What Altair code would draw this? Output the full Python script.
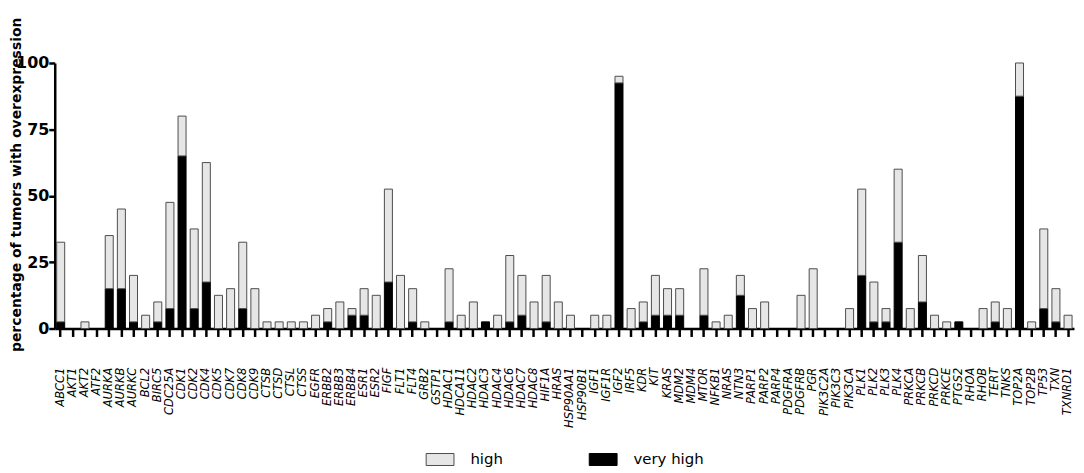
import altair as alt
import pandas as pd

genes = ["ABCC1","AKT1","AKT2","ATF2","AURKA","AURKB","AURKC","BCL2","BIRC5","CDC25A",
         "CDK1","CDK2","CDK4","CDK5","CDK7","CDK8","CDK9","CTSB","CTSD","CTSL",
         "CTSS","EGFR","ERBB2","ERBB3","ERBB4","ESR1","ESR2","FIGF","FLT1","FLT4",
         "GRB2","GSTP1","HDAC1","HDCA11","HDAC2","HDAC3","HDAC4","HDAC6","HDAC7","HDAC8",
         "HIF1A","HRAS","HSP90AA1","HSP90B1","IGF1","IGF1R","IGF2","IRF5","KDR","KIT",
         "KRAS","MDM2","MDM4","MTOR","NFKB1","NRAS","NTN3","PARP1","PARP2","PARP4",
         "PDGFRA","PDGFRB","PGR","PIK3C2A","PIK3C3","PIK3CA","PLK1","PLK2","PLK3","PLK4",
         "PRKCA","PRKCB","PRKCD","PRKCE","PTGS2","RHOA","RHOB","TERT","TNKS","TOP2A",
         "TOP2B","TP53","TXN","TXNRD1"]

# total percentage of tumours with overexpression (high + very high)
total = [32.5,0,2.5,0,35,45,20,5,10,47.5,
         80,37.5,62.5,12.5,15,32.5,15,2.5,2.5,2.5,
         2.5,5,7.5,10,7.5,15,12.5,52.5,20,15,
         2.5,0,22.5,5,10,2.5,5,27.5,20,10,
         20,10,5,0,5,5,95,7.5,10,20,
         15,15,0,22.5,2.5,5,20,7.5,10,0,
         0,12.5,22.5,0,0,7.5,52.5,17.5,7.5,60,
         7.5,27.5,5,2.5,2.5,0,7.5,10,7.5,100,
         2.5,37.5,15,5]

very_high = [2.5,0,0,0,15,15,2.5,0,2.5,7.5,
             65,7.5,17.5,0,0,7.5,0,0,0,0,
             0,0,2.5,0,5,5,0,17.5,0,2.5,
             0,0,2.5,0,0,2.5,0,2.5,5,0,
             2.5,0,0,0,0,0,92.5,0,2.5,5,
             5,5,0,5,0,0,12.5,0,0,0,
             0,0,0,0,0,0,20,2.5,2.5,32.5,
             0,10,0,0,2.5,0,0,2.5,0,87.5,
             0,7.5,2.5,0]

levels = ["high", "very high"]

rows = []
for g, t, v in zip(genes, total, very_high):
    rows.append({"gene": g, "level": "very high", "value": v, "ord": 0})
    rows.append({"gene": g, "level": "high", "value": round(t - v, 2), "ord": 1})
df = pd.DataFrame(rows)

FONT = "DejaVu Sans"

legend = alt.Legend(
    title=None, orient="none", direction="horizontal",
    legendX=373, legendY=384,
    symbolType="M-1,-0.43h2v0.86h-2Z", symbolSize=784,
    symbolStrokeWidth=1,
    labelFont=FONT, labelFontSize=15, labelColor="#000",
    labelOffset=16, columnPadding=84, padding=0,
)

chart = alt.Chart(df).transform_filter("datum.value > 0").mark_bar(
    strokeWidth=1
).encode(
    x=alt.X("gene:N", sort=genes,
            scale=alt.Scale(domain=genes, paddingInner=0.34, paddingOuter=0.16),
            axis=alt.Axis(title=None, labelAngle=270, labelAlign="right", labelBaseline="middle",
                          labelFont=FONT, labelFontSize=11.5, labelFontStyle="italic",
                          labelColor="#000", labelPadding=31, labelOverlap=False,
                          domainColor="#000", domainWidth=2.5,
                          tickColor="#000", tickWidth=2.5, tickSize=8)),
    y=alt.Y("value:Q", stack="zero", scale=alt.Scale(domain=[0, 100], nice=False),
            axis=alt.Axis(title="percentage of tumors with overexpression",
                          values=[0, 25, 50, 75, 100], grid=False,
                          labelFont=FONT, labelFontSize=16, labelFontWeight="bold",
                          labelColor="#000", labelPadding=0,
                          domainColor="#000", domainWidth=2.5,
                          tickColor="#000", tickWidth=2.5, tickSize=6,
                          titleFont=FONT, titleFontSize=14, titleFontWeight="bold",
                          titleColor="#000", titleX=-38, titleY=122,
                          titleAngle=270, titleAlign="center", titleBaseline="middle")),
    color=alt.Color("level:N", scale=alt.Scale(domain=levels, range=["#e6e6e6", "#000000"]),
                    legend=legend),
    stroke=alt.Stroke("level:N", scale=alt.Scale(domain=levels, range=["#4d4d4d", "#000000"]),
                      legend=legend),
    order=alt.Order("ord:Q"),
).properties(
    width=1025, height=267,
    autosize=alt.AutoSizeParams(type="none"),
    padding={"left": 47, "top": 54, "right": 2, "bottom": 144},
).configure_view(stroke=None)

chart.save("out.html", embed_options={"renderer": "svg", "actions": False})
